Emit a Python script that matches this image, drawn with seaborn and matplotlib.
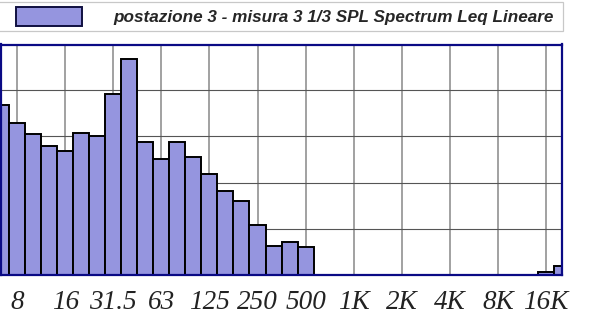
import matplotlib
matplotlib.use("Agg")
import matplotlib.pyplot as plt
from matplotlib.patches import Patch, Rectangle
import seaborn as sns
import pandas as pd

# 1/3-octave band centres (Hz) and measured Leq levels (dB, linear weighting)
bands = ["6.3", "8", "10", "12.5", "16", "20", "25", "31.5", "40", "50",
         "63", "80", "100", "125", "160", "200", "250", "315", "400", "500",
         "630", "800", "1K", "1.25K", "1.6K", "2K", "2.5K", "3.15K", "4K", "5K",
         "6.3K", "8K", "10K", "12.5K", "16K", "20K"]
levels = [73.8, 65.8, 61.3, 55.7, 53.8, 61.6, 60.4, 78.6, 93.8, 57.4,
          50.2, 57.8, 50.9, 43.8, 36.4, 32.0, 21.6, 12.6, 14.2, 11.9,
          0, 0, 0, 0, 0, 0, 0, 0, 0, 0,
          0, 0, 0, 0, 0.9, 3.8]

# octave labels shown on the frequency axis
octave_labels = ["8", "16", "31.5", "63", "125", "250", "500",
                 "1K", "2K", "4K", "8K", "16K"]
y_grid = [20, 40, 60, 80]

series_name = "postazione 3 - misura 3 1/3 SPL Spectrum Leq Lineare"

df = pd.DataFrame({"band": bands, "level": levels})

sns.set_style("white")
fig = plt.figure(figsize=(6.03, 3.20), dpi=100)
ax = fig.add_axes([0.001, 45.5 / 320, 561.4 / 603, 230 / 320])

bar_color = "#9595DF"
navy = "#0A0A85"

sns.barplot(data=df, x="band", y="level", order=bands, color=bar_color,
            saturation=1, width=1.0, edgecolor="black", linewidth=1.4,
            ax=ax, zorder=2)

ax.set_xlim(-0.03, len(bands) - 1)
ax.set_ylim(0, 100)

# major ticks on octave bands, minor ticks on the in-between thirds
major_pos = [bands.index(b) for b in octave_labels]
minor_pos = [i for i in range(len(bands)) if i not in major_pos]
ax.set_xticks(major_pos)
ax.set_xticklabels(octave_labels, fontfamily="Liberation Serif",
                   fontstyle="italic", fontsize=19.5, color="#222222")
ax.set_xticks(minor_pos, minor=True)
ax.tick_params(axis="x", which="major", length=4.5, width=1.0,
               color="#333333", direction="out", pad=6.5)
ax.tick_params(axis="x", which="minor", length=2.3, width=1.0,
               color="#555555", direction="out")

ax.set_yticks(y_grid)
ax.set_yticklabels([])
ax.tick_params(axis="y", length=0)

ax.set_axisbelow(True)
ax.grid(False)
for p in major_pos:
    ax.axvline(p, color="#9a9a9a", linewidth=1.3, zorder=0.5)
for g in y_grid:
    ax.axhline(g, color="#555555", linewidth=0.8, zorder=0.5)

ax.set_xlabel("")
ax.set_ylabel("")
for s in ax.spines.values():
    s.set_visible(True)
    s.set_color(navy)
    s.set_linewidth(1.6)
    s.set_zorder(3)

# legend strip above the plot
fig.patches.append(Rectangle((-0.01, 1 - 31 / 320), 563 / 603 + 0.01, 29 / 320,
                             transform=fig.transFigure, facecolor="white",
                             edgecolor="#c8c8c8", linewidth=0.9))
handle = Patch(facecolor=bar_color, edgecolor="#101040", linewidth=1.4)
fig.legend([handle], [series_name], loc="center left",
           bbox_to_anchor=(12.5 / 603, 1 - 16.5 / 320), frameon=False,
           handlelength=3.85, handleheight=1.4, handletextpad=1.85,
           borderpad=0.2, borderaxespad=0,
           prop={"family": "Liberation Sans", "weight": "bold",
                 "style": "italic", "size": 12.3})

fig.savefig("out.png", dpi=100)
